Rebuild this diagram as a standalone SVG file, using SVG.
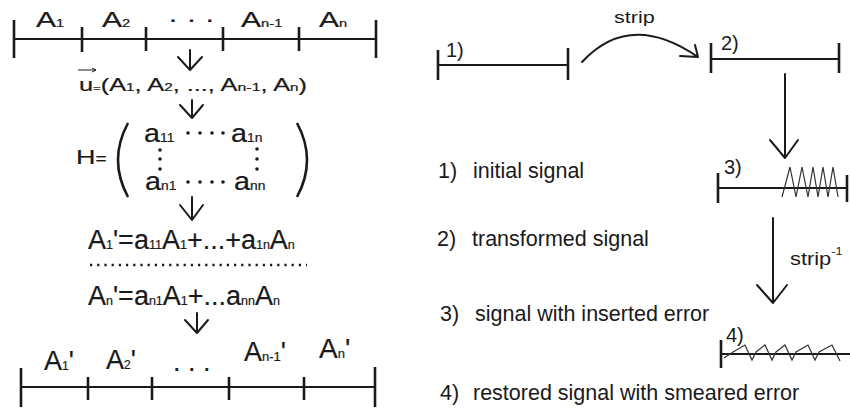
<svg xmlns="http://www.w3.org/2000/svg" width="850" height="412" viewBox="0 0 850 412">
<style>
text { font-family: "Liberation Sans", Arial, sans-serif; fill: #1a1a1a; }
.m { stroke: #1a1a1a; stroke-width: 0.2; }
.ln { stroke: #1a1a1a; stroke-width: 2; fill: none; }
.tk { stroke: #1a1a1a; stroke-width: 2.6; fill: none; }
.ar { stroke: #1a1a1a; stroke-width: 2; fill: none; stroke-linecap: round; stroke-linejoin: round; }
.zz { stroke: #333; stroke-width: 1.2; fill: none; }
.lg { font-size: 21.5px; }
</style>
<rect width="850" height="412" fill="#fff"/>

<g id="top-signal">
  <line class="ln" x1="14" y1="39" x2="376" y2="39"/>
  <line class="tk" x1="14" y1="20" x2="14" y2="58"/>
  <line class="tk" x1="82" y1="27" x2="82" y2="52"/>
  <line class="tk" x1="146" y1="27" x2="146" y2="51"/>
  <line class="tk" x1="223" y1="27" x2="223" y2="51"/>
  <line class="tk" x1="299" y1="27" x2="299" y2="51"/>
  <line class="tk" x1="376" y1="20" x2="376" y2="58"/>
  <text class="m" transform="translate(36,27) scale(1.4,1)" font-size="21.5">A<tspan font-size="10.5">1</tspan></text>
  <text class="m" transform="translate(102,27) scale(1.4,1)" font-size="21.5">A<tspan font-size="10.5">2</tspan></text>
  <text class="m" transform="translate(168,27) scale(1.4,1)" font-size="21.5">· · ·</text>
  <text class="m" transform="translate(241,27) scale(1.4,1)" font-size="21.5">A<tspan font-size="10.5">n-1</tspan></text>
  <text class="m" transform="translate(319,27) scale(1.4,1)" font-size="21.5">A<tspan font-size="10.5">n</tspan></text>
</g>

<g id="vector">
  <line x1="78" y1="70" x2="96" y2="70" stroke="#1a1a1a" stroke-width="1"/>
  <path d="M92,68 L96,70 L92,72" stroke="#1a1a1a" stroke-width="1" fill="none"/>
  <text class="m" transform="translate(79,91) scale(1.45,1)" font-size="17.5">u<tspan font-size="9">=</tspan>(A<tspan font-size="10.5">1</tspan>, A<tspan font-size="10.5">2</tspan>, ..., A<tspan font-size="11">n-1</tspan>, A<tspan font-size="10.5">n</tspan>)</text>
</g>

<g id="matrix">
  <text class="m" transform="translate(76,164) scale(1.35,1)" font-size="20">H<tspan font-size="14">=</tspan></text>
  <path class="tk" d="M128,123 Q108,160 128,197" stroke-width="3"/>
  <path class="tk" d="M297,123 Q317,160 297,197" stroke-width="3"/>
  <text class="m" transform="translate(144,142) scale(1.15,1)" font-size="25">a<tspan font-size="12">11</tspan></text>
  <text class="m" transform="translate(231,142) scale(1.15,1)" font-size="25">a<tspan font-size="12">1n</tspan></text>
  <text class="m" transform="translate(145,190) scale(1.15,1)" font-size="25">a<tspan font-size="12">n1</tspan></text>
  <text class="m" transform="translate(234,190) scale(1.15,1)" font-size="25">a<tspan font-size="12">nn</tspan></text>
  <g fill="#1a1a1a">
    <circle cx="188" cy="133" r="1.8"/><circle cx="200" cy="133" r="1.8"/><circle cx="212" cy="133" r="1.8"/><circle cx="223" cy="133" r="1.8"/>
    <circle cx="188" cy="182" r="1.8"/><circle cx="200" cy="182" r="1.8"/><circle cx="212" cy="182" r="1.8"/><circle cx="223" cy="182" r="1.8"/>
    <circle cx="160" cy="150" r="1.8"/><circle cx="160" cy="159" r="1.8"/><circle cx="160" cy="169" r="1.8"/>
    <circle cx="257" cy="149" r="1.8"/><circle cx="257" cy="159" r="1.8"/><circle cx="257" cy="169" r="1.8"/>
  </g>
</g>

<g id="equations">
  <text class="m" x="88" y="249" font-size="27">A<tspan font-size="12.5">1</tspan>'=a<tspan font-size="12.5">11</tspan>A<tspan font-size="12.5">1</tspan>+...+a<tspan font-size="12.5">1n</tspan>A<tspan font-size="12.5">n</tspan></text>
  <line x1="90" y1="265" x2="307" y2="265" stroke="#1a1a1a" stroke-width="2.5" stroke-dasharray="2.2 5"/>
  <text class="m" x="88" y="305" font-size="27">A<tspan font-size="12.5">n</tspan>'=a<tspan font-size="12.5">n1</tspan>A<tspan font-size="12.5">1</tspan>+...a<tspan font-size="12.5">nn</tspan>A<tspan font-size="12.5">n</tspan></text>
</g>

<g id="bottom-signal">
  <line class="ln" x1="21" y1="387" x2="375" y2="387"/>
  <line class="tk" x1="21" y1="368" x2="21" y2="407"/>
  <line class="tk" x1="88" y1="377" x2="88" y2="400"/>
  <line class="tk" x1="152" y1="377" x2="152" y2="400"/>
  <line class="tk" x1="229" y1="377" x2="229" y2="400"/>
  <line class="tk" x1="304" y1="377" x2="304" y2="400"/>
  <line class="tk" x1="375" y1="367" x2="375" y2="407"/>
  <text class="m" x="44" y="370" font-size="27">A<tspan font-size="12">1</tspan>'</text>
  <text class="m" x="106" y="369" font-size="27">A<tspan font-size="12">2</tspan>'</text>
  <text class="m" x="173" y="371" font-size="27">. . .</text>
  <text class="m" x="244" y="361" font-size="27">A<tspan font-size="13">n-1</tspan>'</text>
  <text class="m" x="319" y="358" font-size="28">A<tspan font-size="13">n</tspan>'</text>
</g>

<g id="signal-1">
  <line class="ln" x1="438" y1="65" x2="568" y2="65"/>
  <line class="tk" x1="438" y1="50" x2="438" y2="80"/>
  <line class="tk" x1="568" y1="48" x2="568" y2="80"/>
  <text x="446" y="57" font-size="20">1)</text>
</g>

<g id="signal-2">
  <line class="ln" x1="711" y1="59" x2="839" y2="59"/>
  <line class="tk" x1="711" y1="43" x2="711" y2="73"/>
  <line class="tk" x1="839" y1="43" x2="839" y2="73"/>
  <text x="721" y="50" font-size="20">2)</text>
</g>

<g id="signal-3">
  <line class="ln" x1="718" y1="188" x2="847" y2="188"/>
  <line class="tk" x1="718" y1="173" x2="718" y2="203"/>
  <line class="tk" x1="847" y1="175" x2="847" y2="202"/>
  <path class="zz" d="M782,197 L790,167 L796,197 L802,167 L808,197 L813,167 L818,197 L823,167 L828,197 L833,167 L838,197"/>
  <text x="724" y="174" font-size="20">3)</text>
</g>

<g id="signal-4">
  <line class="ln" x1="721" y1="354" x2="850" y2="354"/>
  <line class="tk" x1="721" y1="340" x2="721" y2="368"/>
  <path class="zz" d="M724,358 L733,352 L745,345 L752,360 L756,352 L765,345 L772,360 L776,352 L785,345 L792,360 L796,352 L808,345 L815,360 L819,352 L832,345 L840,361"/>
  <text x="726" y="342" font-size="20">4)</text>
</g>

<g id="connectors">
  <path class="ar" d="M190,50 L190,70 M178,57 L190,70 L202,57"/>
  <path class="ar" d="M192,100 L192,118 M180,105 L192,118 L203,105"/>
  <path class="ar" d="M192,197 L192,220 M180,205 L192,220 L203,205"/>
  <path class="ar" d="M197,313 L197,333 M185,320 L197,333 L208,320"/>
  <path class="ar" d="M582,62 Q630,10 698,57 M695,45 L698,57 L680,56"/>
  <path class="ar" d="M785,74 L785,158 M770,140 L785,158 L798,140"/>
  <path class="ar" d="M773,218 L773,303 M757,285 L773,303 L787,285"/>
</g>

<g id="labels">
  <text transform="translate(614,23) scale(1.35,1)" font-size="16">strip</text>
  <text transform="translate(790,265) scale(1.15,1)" font-size="19">strip<tspan font-size="11" dy="-10">-1</tspan></text>
  <text class="lg" x="438" y="178">1)<tspan x="473">initial signal</tspan></text>
  <text class="lg" x="437" y="246">2)<tspan x="472">transformed signal</tspan></text>
  <text class="lg" x="440" y="321">3)<tspan x="475">signal with inserted error</tspan></text>
  <text class="lg" x="440" y="400">4)<tspan x="473">restored signal with smeared error</tspan></text>
</g>
</svg>
